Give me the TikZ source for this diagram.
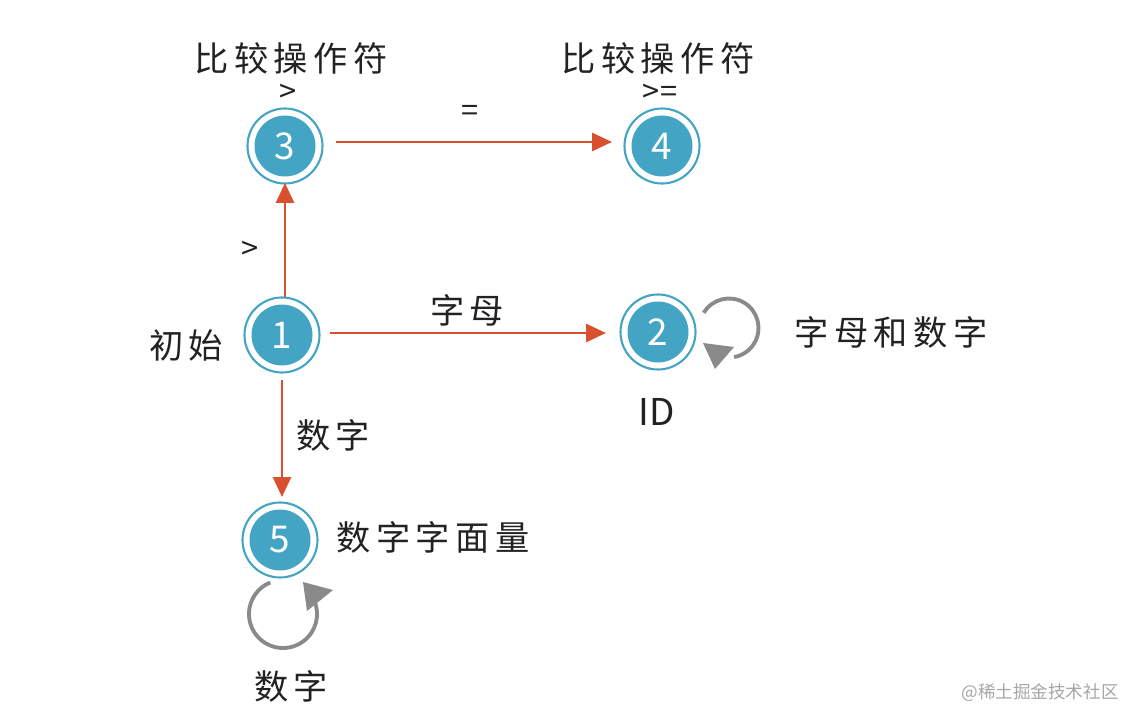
\documentclass[tikz,border=0pt]{standalone}
\usepackage{fontspec}
\setmainfont{Noto Sans CJK SC}
\usetikzlibrary{arrows.meta}
\definecolor{teal1}{HTML}{44A4C4}
\definecolor{arr}{HTML}{D8502E}
\definecolor{loopc}{HTML}{8A8A8A}
\definecolor{txt}{HTML}{222222}
\tikzset{
  state/.style={circle, fill=teal1, minimum size=61*0.02cm, inner sep=0pt,
     text=white, font=\fontsize{21}{23}\selectfont,
     append after command={\pgfextra{\draw[teal1, line width=1.2pt] (\tikzlastnode.center) circle (37.5*0.02cm);}}},
  lbl/.style={text=txt, font=\fontsize{17.5}{20}\selectfont, inner sep=0pt},
  cjk/.style={text=txt, font=\fontsize{19.5}{22}\selectfont\addfontfeature{LetterSpace=16}, inner sep=0pt},
  tr/.style={draw=arr, line width=1.6pt, -{Triangle[length=0.4cm,width=0.36cm]}},
  lp/.style={draw=loopc, line width=2.2pt},
  lph/.style={fill=loopc}
}
\begin{document}
\begin{tikzpicture}[x=0.02cm,y=-0.02cm]
\useasboundingbox (0,0) rectangle (1142,726);
\node[state] (n1) at (282,335) {1};
\node[state] (n2) at (658,332) {2};
\node[state] (n3) at (285,146) {3};
\node[state] (n4) at (662,146) {4};
\node[state] (n5) at (280,540) {5};

\coordinate (a3s) at (336,142); \coordinate (a3e) at (612,142);
\coordinate (a1us) at (285,297); \coordinate (a1ue) at (285,183);
\coordinate (a1rs) at (330,333); \coordinate (a1re) at (606,333);
\coordinate (a1ds) at (282,380); \coordinate (a1de) at (282,497);
\draw[tr] (a3s) -- (a3e);
\draw[tr] (a1us) -- (a1ue);
\draw[tr] (a1rs) -- (a1re);
\draw[tr] (a1ds) -- (a1de);

\coordinate (c2) at (729,328);
\draw[lp] (c2) ++(211:29.5) arc[start angle=211, end angle=440, radius=29.5];
\fill[lph] (703,343) -- (734,347) -- (715,369) -- cycle;
\coordinate (c5) at (283,614);
\draw[lp] (c5) ++(248:34) arc[start angle=248, end angle=-22, radius=34];
\fill[lph] (303,582) -- (333,590) -- (307,611) -- cycle;

\node[cjk] (t3) at (291,58) {比较操作符};
\node[lbl] (g3) at (288,93) {>};
\node[cjk] (t4) at (658,58) {比较操作符};
\node[lbl] (g4) at (660,93) {>=};
\node[lbl] (eq) at (470,113) {=};
\node[lbl] (gt) at (250,250) {>};
\node[cjk] (init) at (186,345) {初始};
\node[cjk] (zm) at (467,310) {字母};
\node[cjk] (zmsz) at (891,332) {字母和数字};
\node[lbl, font=\fontsize{21}{23}\selectfont] (id) at (657,412) {ID};
\node[cjk] (sz) at (333,435) {数字};
\node[cjk] (szzml) at (433,537) {数字字面量};
\node[cjk] (sz2) at (291,686) {数字};
\node[text=gray!70, font=\fontsize{10}{12}\selectfont, inner sep=0pt] (wm) at (1040,693) {@稀土掘金技术社区};
\end{tikzpicture}
\end{document}
